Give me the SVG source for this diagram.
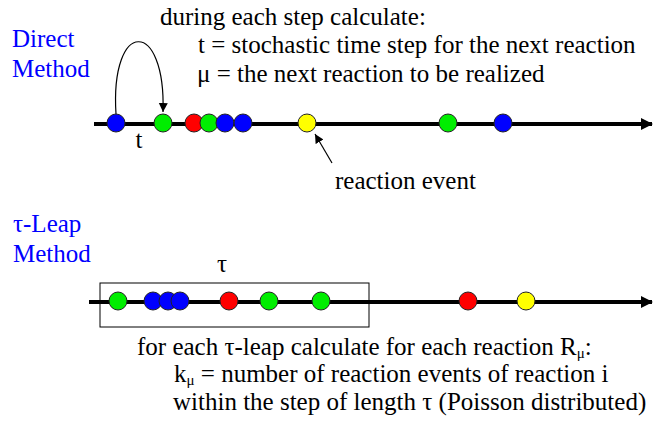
<svg xmlns="http://www.w3.org/2000/svg" width="653" height="434" viewBox="0 0 653 434">
<defs>
<style>
text{font-family:'Liberation Serif',serif;font-size:25px;fill:#000}
.lbl{fill:#0000ff}
.ev{stroke:#222;stroke-width:1}
.b{fill:#0000ff}.g{fill:#00ee00}.r{fill:#ff0000}.y{fill:#ffff00}
.axis{stroke:#000;stroke-width:4;fill:none}
.thin{stroke:#000;stroke-width:1.2;fill:none}
.sub{font-size:15px}
</style>
<marker id="big" viewBox="0 0 12 12" refX="11" refY="6" markerWidth="12" markerHeight="12" markerUnits="userSpaceOnUse" orient="auto">
<path d="M0,0 L12,6 L0,12 Z" fill="#000"/>
</marker>
<marker id="small" viewBox="0 0 10 10" refX="10" refY="5" markerWidth="9" markerHeight="11" markerUnits="userSpaceOnUse" orient="auto">
<path d="M0,0 L10,5 L0,10 Z" fill="#000"/>
</marker>
</defs>
<rect width="653" height="434" fill="#fff"/>

<g id="direct-label">
<text class="lbl" x="12" y="47">Direct</text>
<text class="lbl" x="12" y="77">Method</text>
</g>
<g id="direct-text">
<text x="160" y="25">during each step calculate:</text>
<text x="198" y="53">t = stochastic time step for the next reaction</text>
<text x="197" y="82">μ = the next reaction to be realized</text>
</g>

<g id="connectors">
<line class="axis" x1="94" y1="124" x2="652" y2="124" marker-end="url(#big)"/>
<line class="axis" x1="89" y1="302" x2="652" y2="302" marker-end="url(#big)"/>
<path class="thin" d="M116,114 C110,18 166,18 163,112" marker-end="url(#small)"/>
<line class="thin" x1="332" y1="163" x2="315" y2="134" marker-end="url(#small)"/>
</g>

<g id="direct-events" class="ev">
<circle class="b" cx="116" cy="123" r="9"/>
<circle class="g" cx="163" cy="123" r="9"/>
<circle class="r" cx="194" cy="123" r="9"/>
<circle class="g" cx="209" cy="123" r="9"/>
<circle class="b" cx="225" cy="123" r="9"/>
<circle class="b" cx="243" cy="123" r="9"/>
<circle class="y" cx="307" cy="123" r="9"/>
<circle class="g" cx="448" cy="123" r="9"/>
<circle class="b" cx="503" cy="123" r="9"/>
</g>

<g id="t-label"><text x="139" y="148" text-anchor="middle">t</text></g>
<g id="reaction-event-label"><text x="335" y="189">reaction event</text></g>
<g id="leap-label">
<text class="lbl" x="13" y="232">τ-Leap</text>
<text class="lbl" x="13" y="262">Method</text>
</g>
<g id="tau-label"><text x="222" y="272" text-anchor="middle">τ</text></g>

<g id="leap-box"><rect x="100" y="283" width="269" height="44" fill="none" stroke="#000" stroke-width="1"/></g>
<g id="leap-events" class="ev">
<circle class="g" cx="118" cy="301" r="9"/>
<circle class="b" cx="153" cy="301" r="9"/>
<circle class="b" cx="168" cy="301" r="9"/>
<circle class="b" cx="180" cy="301" r="9"/>
<circle class="r" cx="229" cy="301" r="9"/>
<circle class="g" cx="269" cy="301" r="9"/>
<circle class="g" cx="321" cy="301" r="9"/>
<circle class="r" cx="468" cy="301" r="9"/>
<circle class="y" cx="526" cy="301" r="9"/>
</g>
<g id="leap-text">
<text x="137" y="355">for each τ-leap calculate for each reaction R<tspan class="sub" dy="3">μ</tspan><tspan dy="-3">:</tspan></text>
<text x="174" y="382">k<tspan class="sub" dy="3">μ</tspan><tspan dy="-3"> = number of reaction events of reaction i</tspan></text>
<text x="173" y="410">within the step of length τ (Poisson distributed)</text>
</g>
</svg>
